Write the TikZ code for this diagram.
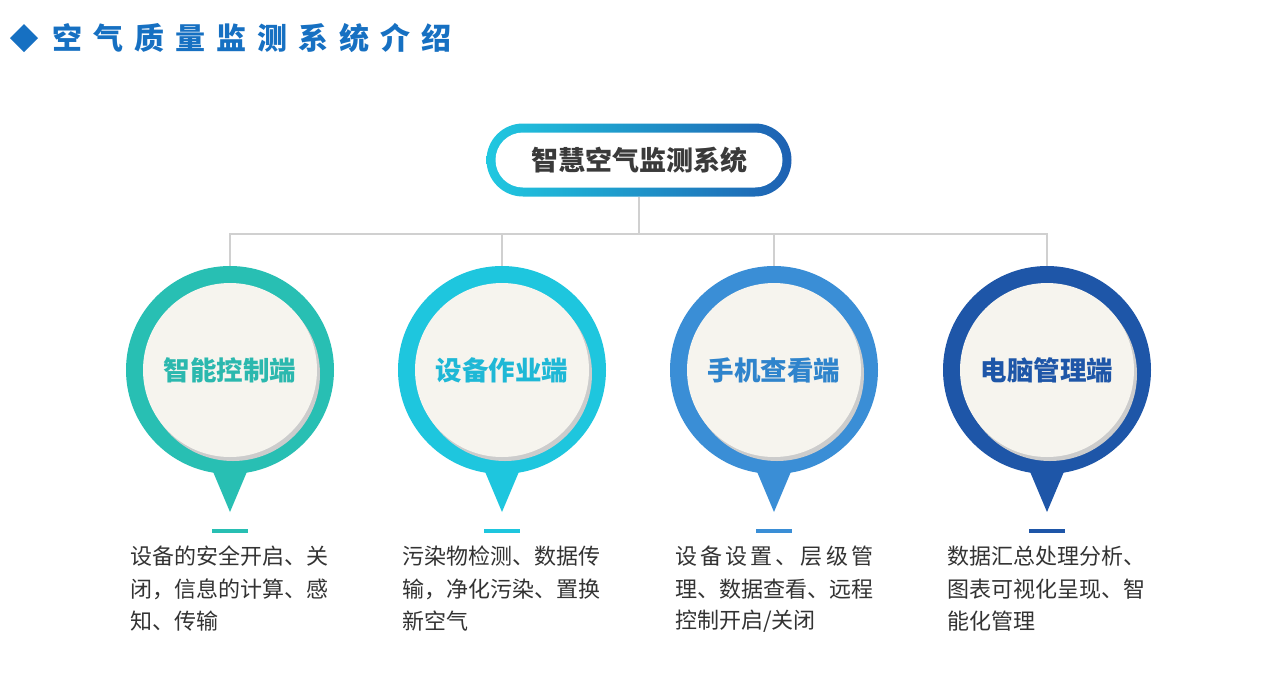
\documentclass[tikz,border=0pt]{standalone}
\usepackage{fontspec}
\setmainfont{Noto Sans CJK SC}
\usetikzlibrary{shapes.misc,calc}
\definecolor{cA}{HTML}{28BFB3}
\definecolor{cB}{HTML}{1EC6DE}
\definecolor{cC}{HTML}{3A8ED6}
\definecolor{cD}{HTML}{1E56A8}
\definecolor{tA}{HTML}{2BB8AE}
\definecolor{tB}{HTML}{1FB8D6}
\definecolor{tC}{HTML}{2F84CC}
\definecolor{tD}{HTML}{1E56A8}
\definecolor{cream}{HTML}{F6F4EE}
\definecolor{titleblue}{HTML}{1670C2}
\definecolor{txt}{HTML}{333333}
\definecolor{pilltxt}{HTML}{3A3A3A}
\definecolor{connc}{HTML}{D0D0D0}
\definecolor{pillL}{HTML}{20C8E0}
\definecolor{pillR}{HTML}{1E60B2}
\tikzset{
  conn/.style={draw=connc,line width=1.6pt},
  pinouter/.style={circle,minimum size=208pt,inner sep=0pt,fill=#1},
  pininner/.style={circle,minimum size=174pt,inner sep=0pt,fill=cream,text=#1,font=\fontsize{26.5}{30}\selectfont\bfseries},
  desc/.style={anchor=west,inner sep=0pt,text=txt,font=\fontsize{22}{26}\selectfont},
  dashmark/.style={line width=4pt},
}
\newcommand{\pinset}[5]{% name, x, outer colour, text colour, label
  \node[pinouter=#3] (#1) at (#2,370) {};
  \fill[#3] ($(#1.center)+(-24,85)$) -- ($(#1.center)+(24,85)$) -- ($(#1.center)+(0,142)$) -- cycle;
  \fill[black!20] ($(#1.center)+(3,4)$) circle (87pt);
  \node[pininner=#4] (#1i) at (#2,370) {#5};
  \draw[dashmark,#3] ($(#1.center)+(-18,161)$) -- ($(#1.center)+(18,161)$);
}
\begin{document}
\begin{tikzpicture}[x=1pt,y=-1pt]
\useasboundingbox (0,0) rectangle (1267,697);
\fill[white] (0,0) rectangle (1267,697);
% title
\fill[titleblue] (24,24) -- (38,38) -- (24,52) -- (10,38) -- cycle;
\node[anchor=west,inner sep=0pt,text=titleblue,font=\fontsize{30}{34}\selectfont\bfseries] (title) at (52,38)
  {空\hspace{11pt}气\hspace{11pt}质\hspace{11pt}量\hspace{11pt}监\hspace{11pt}测\hspace{11pt}系\hspace{11pt}统\hspace{11pt}介\hspace{11pt}绍};
% top pill
\node[rounded rectangle,minimum width=305pt,minimum height=73pt,inner sep=0pt,
      left color=pillL,right color=pillR,
      path picture={\fill[white,rounded corners=27.5pt]
        ([xshift=9pt,yshift=-9pt]path picture bounding box.north west) rectangle
        ([xshift=-9pt,yshift=9pt]path picture bounding box.south east);},
      text=pilltxt,font=\fontsize{27}{30}\selectfont\bfseries] (top) at (639,160) {智慧空气监测系统};
% pins
\pinset{p1}{230}{cA}{tA}{智能控制端}
\pinset{p2}{502}{cB}{tB}{设备作业端}
\pinset{p3}{774}{cC}{tC}{手机查看端}
\pinset{p4}{1047}{cD}{tD}{电脑管理端}
% connectors
\coordinate (bus) at (639,234);
\draw[conn] (top.south) -- (bus);
\draw[conn] (bus) -| (p1.north);
\draw[conn] (bus) -| (p2.north);
\draw[conn] (bus) -| (p3.north);
\draw[conn] (bus) -| (p4.north);
% descriptions
\node[desc] (d1a) at (130,556) {设备的安全开启、关};
\node[desc] (d1b) at (130,589) {闭，信息的计算、感};
\node[desc] (d1c) at (130,621) {知、传输};
\node[desc] (d2a) at (402,556) {污染物检测、数据传};
\node[desc] (d2b) at (402,589) {输，净化污染、置换};
\node[desc] (d2c) at (402,621) {新空气};
\node[desc] (d3a) at (675,556) {\makebox[198pt][s]{设\hfil 备\hfil 设\hfil 置\hfil 、\hfil 层\hfil 级\hfil 管}};
\node[desc] (d3b) at (675,589) {理、数据查看、远程};
\node[desc] (d3c) at (675,621) {控制开启/关闭};
\node[desc] (d4a) at (947,556) {数据汇总处理分析、};
\node[desc] (d4b) at (947,589) {图表可视化呈现、智};
\node[desc] (d4c) at (947,621) {能化管理};
\end{tikzpicture}
\end{document}
